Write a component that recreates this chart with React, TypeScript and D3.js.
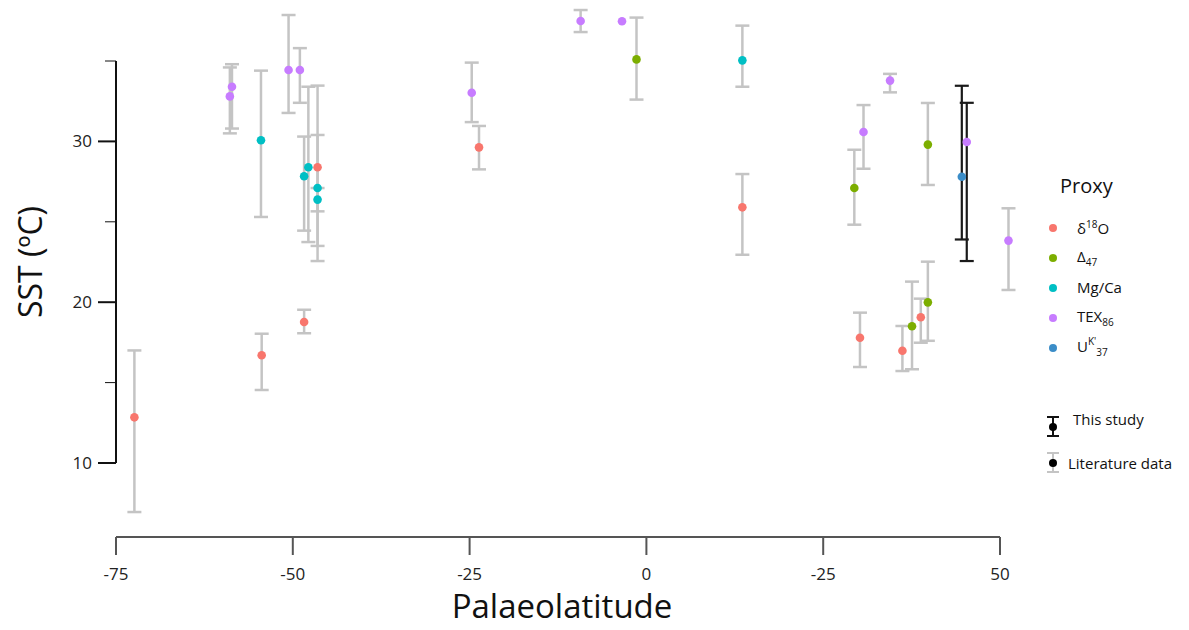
import React from "react";
import * as d3 from "d3";

const proxyNames = ["d18O", "D47", "MgCa", "TEX86", "UK37"];
const proxyColors = ["#F8766D", "#7CAE00", "#00BFC4", "#C77CFF", "#3B8DC8"];

const palaeolat = [-72.4, -54.4, -48.4, -58.6, -58.9, -54.5, -50.6, -49.0, -48.4, -47.8, -46.5, -46.5, -46.5, -24.7, -23.67, -9.3, -3.45, -1.4, 13.57, 13.57, 34.45, 30.7, 29.4, 39.8, 44.6, 45.3, 51.2, 30.2, 36.2, 37.56, 38.8, 39.8];
const sst = [12.84, 16.7, 18.77, 33.4, 32.8, 30.07, 34.44, 34.44, 27.83, 28.39, 28.39, 27.1, 26.38, 33.03, 29.63, 37.49, 37.47, 35.1, 35.04, 25.9, 33.78, 30.58, 27.1, 29.8, 27.8, 29.96, 23.83, 17.79, 16.98, 18.5, 19.06, 19.99];
const sstLow = [6.95, 14.54, 18.07, 30.8, 30.5, 25.3, 31.77, 32.4, 24.45, 23.74, 22.56, 23.5, 25.65, 31.2, 28.26, 36.8, NaN, 32.6, 33.4, 22.95, 33.05, 28.3, 24.82, 27.29, 23.9, 22.56, 20.76, 15.97, 15.72, 15.83, 17.48, 17.6];
const sstHigh = [17.0, 18.04, 19.53, 34.8, 34.6, 34.4, 37.86, 35.8, 30.3, 33.4, 33.47, 30.4, 27.1, 34.9, 30.96, 38.17, NaN, 37.7, 37.2, 27.97, 34.2, 32.26, 29.48, 32.39, 33.46, 32.4, 25.84, 19.35, 18.52, 21.28, 20.22, 22.52];
const proxy = ["d18O", "d18O", "d18O", "TEX86", "TEX86", "MgCa", "TEX86", "TEX86", "MgCa", "MgCa", "d18O", "MgCa", "MgCa", "TEX86", "d18O", "TEX86", "TEX86", "D47", "MgCa", "d18O", "TEX86", "TEX86", "D47", "D47", "UK37", "TEX86", "TEX86", "d18O", "d18O", "D47", "d18O", "D47"];
const source = ["lit", "lit", "lit", "lit", "lit", "lit", "lit", "lit", "lit", "lit", "lit", "lit", "lit", "lit", "lit", "lit", "lit", "lit", "lit", "lit", "lit", "lit", "lit", "lit", "this", "this", "lit", "lit", "lit", "lit", "lit", "lit"];

const xTickValues = [-75, -50, -25, 0, 25, 50];
const xTickLabels = ["-75", "-50", "-25", "0", "-25", "50"];
const yTickValues = [10, 15, 20, 25, 30, 35];
const yTickLabels = ["10", "", "20", "", "30", ""];

const FONT = "'Open Sans', sans-serif";

export default function App() {
  const W = 1189, H = 630;
  const x = d3.scaleLinear().domain([-75, 50]).range([116, 1000]);
  const y = d3.scaleLinear().domain([10, 35]).range([463, 61]);
  const color = d3.scaleOrdinal<string, string>().domain(proxyNames).range(proxyColors);
  const idx = d3.range(palaeolat.length);
  const cap = 7;

  const bar = (i: number, stroke: string, sw: number) => {
    if (isNaN(sstLow[i])) return null;
    const cx = x(palaeolat[i]);
    const y1 = y(sstHigh[i]);
    const y2 = y(sstLow[i]);
    return (
      <g key={"b" + i} stroke={stroke} strokeWidth={sw} fill="none">
        <line x1={cx} x2={cx} y1={y1} y2={y2} />
        <line x1={cx - cap} x2={cx + cap} y1={y1} y2={y1} />
        <line x1={cx - cap} x2={cx + cap} y1={y2} y2={y2} />
      </g>
    );
  };

  const legendY = [228, 258, 288, 318, 348];

  return (
    <svg width={W} height={H} style={{ position: "absolute", left: 0, top: 0, display: "block", background: "#fff" }} fontFamily={FONT}>
      {/* error bars: literature */}
      {idx.filter(i => source[i] === "lit").map(i => bar(i, "#c4c4c4", 2.5))}
      {/* error bars: this study */}
      {idx.filter(i => source[i] === "this").map(i => bar(i, "#1a1a1a", 2.2))}
      {/* points */}
      {idx.map(i => (
        <circle key={"p" + i} cx={x(palaeolat[i])} cy={y(sst[i])} r={4.3} fill={color(proxy[i])} />
      ))}

      {/* y axis */}
      <line x1={116} x2={116} y1={y(35)} y2={y(10)} stroke="#111" strokeWidth={2} />
      {yTickValues.map((v, k) => (
        <g key={"yt" + v}>
          <line x1={yTickLabels[k] ? 98 : 105} x2={116} y1={y(v)} y2={y(v)} stroke="#111" strokeWidth={yTickLabels[k] ? 2 : 1} />
          {yTickLabels[k] && (
            <text x={92} y={y(v)} dy="0.35em" textAnchor="end" fontSize={17} fill="#222">{yTickLabels[k]}</text>
          )}
        </g>
      ))}
      <text transform={`translate(42,${y(22.5)}) rotate(-90)`} textAnchor="middle" fontSize={32} fill="#111">SST (ºC)</text>

      {/* x axis */}
      <line x1={x(-75)} x2={x(50)} y1={537} y2={537} stroke="#555" strokeWidth={2} />
      {xTickValues.map((v, k) => (
        <g key={"xt" + k}>
          <line x1={x(v)} x2={x(v)} y1={537} y2={555} stroke="#555" strokeWidth={2} />
          <text x={x(v)} y={580} textAnchor="middle" fontSize={17} fill="#222">{xTickLabels[k]}</text>
        </g>
      ))}
      <text x={x(-12.5) + 4} y={618} textAnchor="middle" fontSize={33} fill="#111">Palaeolatitude</text>

      {/* legend */}
      <text x={1060} y={193} fontSize={20} fill="#111">Proxy</text>
      {proxyNames.map((p, k) => (
        <circle key={"lc" + p} cx={1053} cy={legendY[k]} r={4} fill={color(p)} />
      ))}
      <text x={1077} y={legendY[0] + 6} fontSize={15} fill="#111">δ<tspan fontSize={10} dy={-6}>18</tspan><tspan dy={6}>O</tspan></text>
      <text x={1077} y={legendY[1] + 4} fontSize={15} fill="#111">Δ<tspan fontSize={10} dy={4}>47</tspan></text>
      <text x={1077} y={legendY[2] + 5} fontSize={15} fill="#111">Mg/Ca</text>
      <text x={1077} y={legendY[3] + 4} fontSize={15} fill="#111">TEX<tspan fontSize={10} dy={4}>86</tspan></text>
      <text x={1077} y={legendY[4] + 4} fontSize={15} fill="#111">U<tspan fontSize={10} dy={-7}>K'</tspan><tspan fontSize={10} dy={11}>37</tspan></text>

      {/* source legend */}
      <g stroke="#111" strokeWidth={2}>
        <line x1={1053} x2={1053} y1={417} y2={436} />
        <line x1={1047} x2={1059} y1={417} y2={417} />
        <line x1={1047} x2={1059} y1={436} y2={436} />
      </g>
      <circle cx={1053} cy={427} r={4} fill="#000" />
      <text x={1073} y={425} fontSize={15} fill="#111">This study</text>
      <g stroke="#c4c4c4" strokeWidth={2}>
        <line x1={1053} x2={1053} y1={453} y2={472} />
        <line x1={1047} x2={1059} y1={453} y2={453} />
        <line x1={1047} x2={1059} y1={472} y2={472} />
      </g>
      <circle cx={1053} cy={463} r={4} fill="#000" />
      <text x={1068} y={469} fontSize={15} fill="#111">Literature data</text>
    </svg>
  );
}
